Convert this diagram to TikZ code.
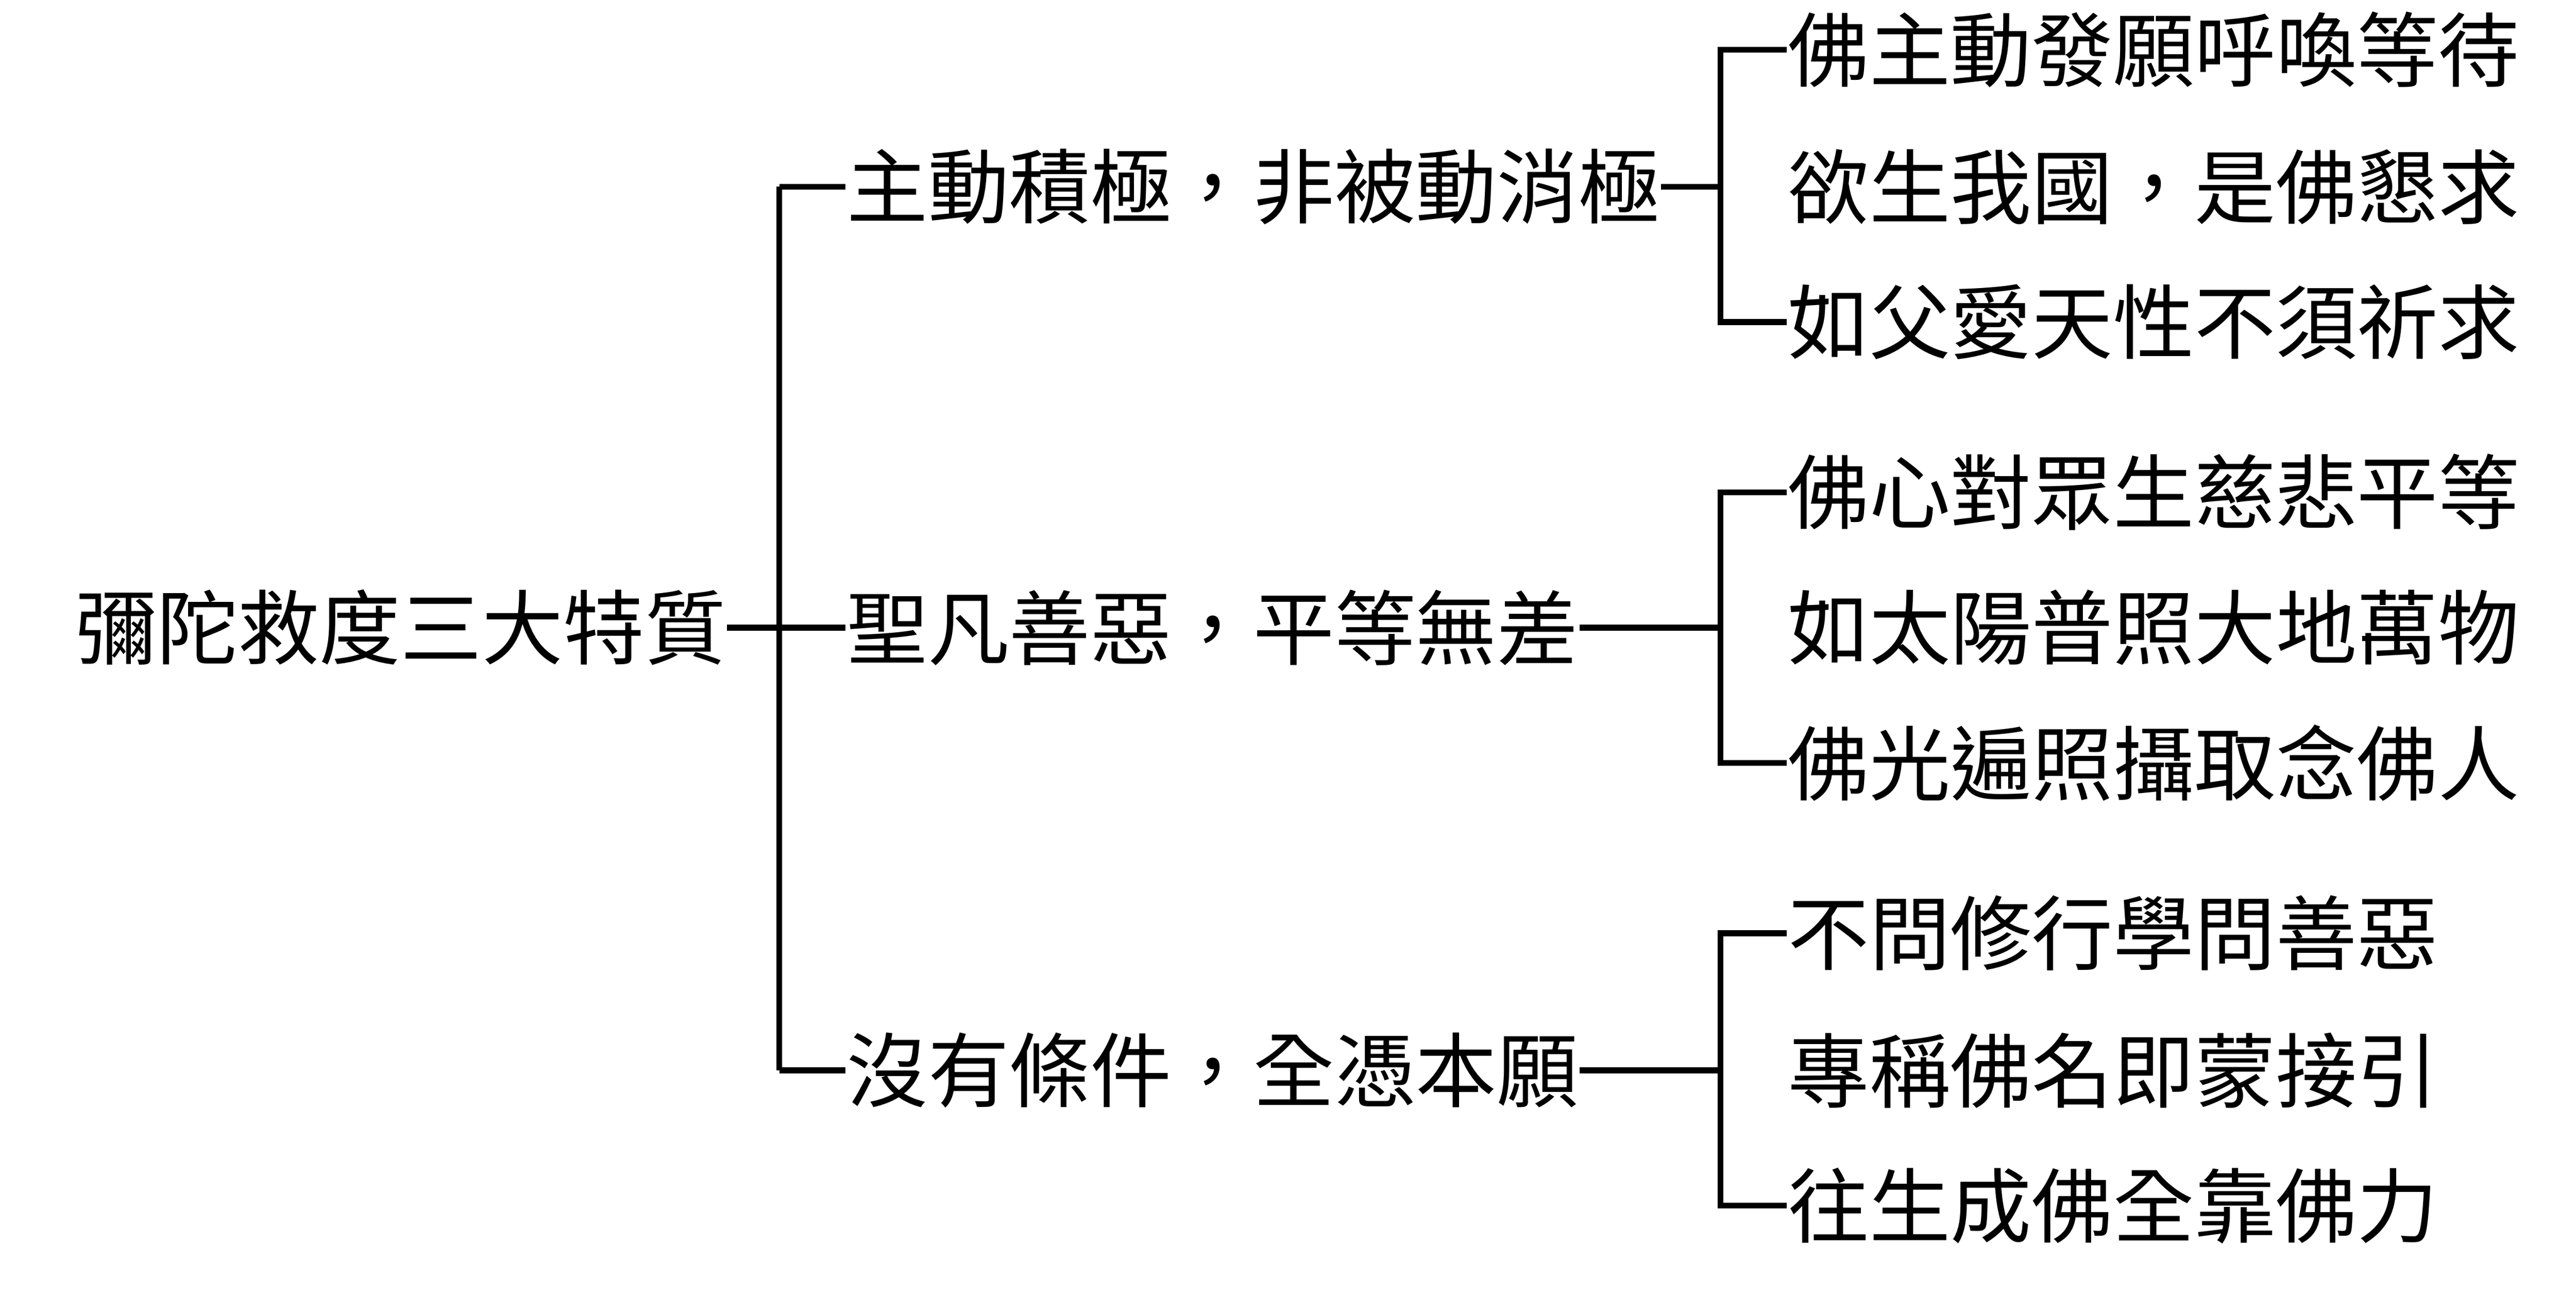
\documentclass[tikz,border=0pt]{standalone}
\usepackage{fontspec}
\newfontfamily\cjk{Noto Sans CJK TC}
\tikzstyle{item} = [font={\cjk\fontsize{14pt}{16pt}\selectfont}, anchor=west, inner sep=0, text=black]
\tikzstyle{link} = [draw=black, line width=1pt]

\begin{document}
\begin{tikzpicture}[x=0.01cm, y=-0.01cm]
\useasboundingbox (0,0) rectangle (1560,784);

\node [item] (r) at (45,380) {彌陀救度三大特質};
\node [item] (a) at (512,113) {主動積極，非被動消極};
\node [item] (b) at (512,380) {聖凡善惡，平等無差};
\node [item] (c) at (512,648) {沒有條件，全憑本願};
\node [item] (a1) at (1082,30) {佛主動發願呼喚等待};
\node [item] (a2) at (1082,113) {欲生我國，是佛懇求};
\node [item] (a3) at (1082,195) {如父愛天性不須祈求};
\node [item] (b1) at (1082,298) {佛心對眾生慈悲平等};
\node [item] (b2) at (1082,380) {如太陽普照大地萬物};
\node [item] (b3) at (1082,462) {佛光遍照攝取念佛人};
\node [item] (c1) at (1082,565) {不問修行學問善惡};
\node [item] (c2) at (1082,648) {專稱佛名即蒙接引};
\node [item] (c3) at (1082,730) {往生成佛全靠佛力};

\coordinate (s) at (472,380);
\coordinate (sa) at (472,113);
\coordinate (sc) at (472,648);
\coordinate (ta) at (1042,113);
\coordinate (tb) at (1042,380);
\coordinate (tc) at (1042,648);
\coordinate (ta1) at (1042,30);
\coordinate (ta3) at (1042,195);
\coordinate (tb1) at (1042,298);
\coordinate (tb3) at (1042,462);
\coordinate (tc1) at (1042,565);
\coordinate (tc3) at (1042,730);

\draw [link] (r.east) -- (b.west);
\draw [link] (sa) -- (sc);
\draw [link] (sa) -- (a.west);
\draw [link] (sc) -- (c.west);
\draw [link] (a.east) -- (ta);
\draw [link] (b.east) -- (tb);
\draw [link] (c.east) -- (tc);
\draw [link] (a1.west) -| (ta1) -- (ta3) -- (a3.west);
\draw [link] (b1.west) -| (tb1) -- (tb3) -- (b3.west);
\draw [link] (c1.west) -| (tc1) -- (tc3) -- (c3.west);
\end{tikzpicture}
\end{document}
